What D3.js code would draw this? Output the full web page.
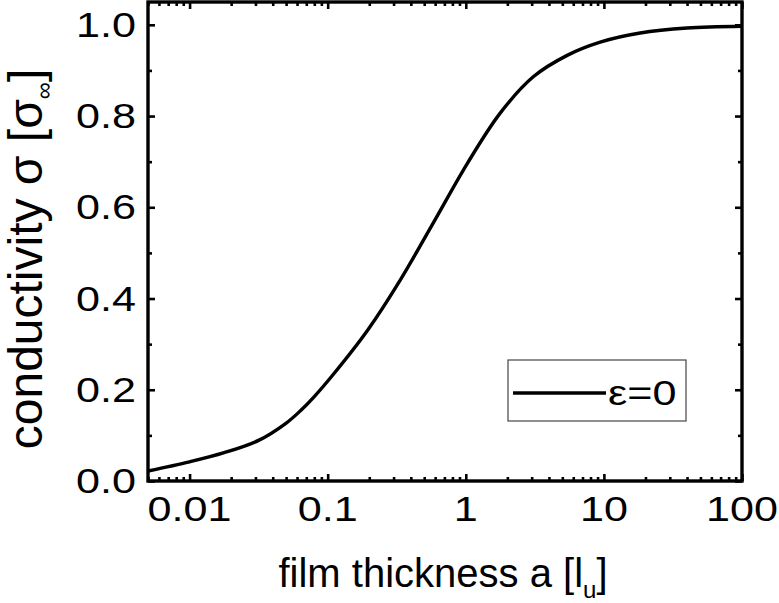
<!DOCTYPE html>
<html>
<head>
<meta charset="utf-8">
<script src="https://cdn.jsdelivr.net/npm/d3@7"></script>
<style>
  html, body { margin: 0; padding: 0; background: #fff; }
  svg { display: block; }
  text { font-family: "Liberation Sans", Arial, Helvetica, sans-serif; fill: #000; }
</style>
</head>
<body>
<svg id="chart" width="779" height="603"></svg>
<script>
// ---- data ----
const thickness = [0.005, 0.01, 0.0178, 0.0316, 0.0501, 0.0635, 0.0794, 0.11, 0.194, 0.336, 0.582, 1.03, 1.78, 3.08, 5.42, 9.4, 18.3, 40, 100];
const conductivity = [0.022, 0.042, 0.062, 0.089, 0.127, 0.154, 0.184, 0.234, 0.330, 0.441, 0.566, 0.697, 0.807, 0.886, 0.933, 0.962, 0.982, 0.993, 0.997];
const xTickValues = [0.01, 0.1, 1, 10, 100];
const xTickLabels = ["0.01", "0.1", "1", "10", "100"];
const yTickValues = [0.0, 0.2, 0.4, 0.6, 0.8, 1.0];
const yTickLabels = ["0.0", "0.2", "0.4", "0.6", "0.8", "1.0"];
const yMinorValues = [0.1, 0.3, 0.5, 0.7, 0.9];
const legendLabel = "ε=0";

// ---- layout ----
const L = 148, R = 742, T = 2, B = 481;
const svg = d3.select("#chart");

const x = d3.scaleLog().domain([0.005, 100]).range([L, R]);
const y = d3.scaleLinear().domain([0, 1.05]).range([B, T]);

// minor x ticks
const xMinor = [];
[0.001, 0.01, 0.1, 1, 10].forEach(d => {
  for (let k = 2; k <= 9; k++) {
    const v = d * k;
    if (v >= 0.005 && v <= 100 && !xTickValues.some(t => Math.abs(t - v) < 1e-9)) xMinor.push(v);
  }
});

const axStroke = 3.4;
function styleAxis(g) {
  g.select(".domain").remove();
  g.selectAll(".tick line").attr("stroke", "#000").attr("stroke-width", 2.6);
  g.selectAll(".tick text").remove();
}

// bottom
svg.append("g").attr("transform", `translate(0,${B})`)
  .call(d3.axisBottom(x).tickValues(xTickValues).tickSize(-7).tickFormat(""))
  .call(styleAxis);
svg.append("g").attr("transform", `translate(0,${B})`)
  .call(d3.axisBottom(x).tickValues(xMinor).tickSize(-4).tickFormat(""))
  .call(styleAxis);
// top
svg.append("g").attr("transform", `translate(0,${T})`)
  .call(d3.axisTop(x).tickValues(xTickValues).tickSize(-7).tickFormat(""))
  .call(styleAxis);
svg.append("g").attr("transform", `translate(0,${T})`)
  .call(d3.axisTop(x).tickValues(xMinor).tickSize(-4).tickFormat(""))
  .call(styleAxis);
// left
svg.append("g").attr("transform", `translate(${L},0)`)
  .call(d3.axisLeft(y).tickValues(yTickValues).tickSize(-7).tickFormat(""))
  .call(styleAxis);
svg.append("g").attr("transform", `translate(${L},0)`)
  .call(d3.axisLeft(y).tickValues(yMinorValues).tickSize(-4).tickFormat(""))
  .call(styleAxis);
// right
svg.append("g").attr("transform", `translate(${R},0)`)
  .call(d3.axisRight(y).tickValues(yTickValues).tickSize(-7).tickFormat(""))
  .call(styleAxis);
svg.append("g").attr("transform", `translate(${R},0)`)
  .call(d3.axisRight(y).tickValues(yMinorValues).tickSize(-4).tickFormat(""))
  .call(styleAxis);

// frame
svg.append("rect")
  .attr("x", L).attr("y", T).attr("width", R - L).attr("height", B - T)
  .attr("fill", "none").attr("stroke", "#000").attr("stroke-width", axStroke);

// tick labels
const tickFont = 34.5, stretch = 1.25;
svg.append("g").selectAll("text").data(xTickValues).join("text")
  .attr("transform", (d) => `translate(${x(d)},${B + 40}) scale(${stretch},1)`)
  .attr("text-anchor", "middle")
  .attr("font-size", tickFont)
  .text((d, i) => xTickLabels[i]);

svg.append("g").selectAll("text").data(yTickValues).join("text")
  .attr("transform", (d) => `translate(${L - 12},${y(d) + 12}) scale(${stretch},1)`)
  .attr("text-anchor", "end")
  .attr("font-size", tickFont)
  .text((d, i) => yTickLabels[i]);

// curve
const line = d3.line()
  .x((d, i) => x(thickness[i]))
  .y((d) => y(d))
  .curve(d3.curveCatmullRom.alpha(0.5));
svg.append("path")
  .datum(conductivity)
  .attr("fill", "none")
  .attr("stroke", "#000")
  .attr("stroke-width", 3.4)
  .attr("stroke-linejoin", "round")
  .attr("d", line);

// x title
const xt = svg.append("text")
  .attr("x", (L + R) / 2 - 2).attr("y", 587)
  .attr("text-anchor", "middle")
  .attr("font-size", 40);
xt.append("tspan").text("film thickness a [l");
xt.append("tspan").attr("font-size", 24).attr("dy", 11).text("u");
xt.append("tspan").attr("dy", -11).text("]");

// y title
const yt = svg.append("text")
  .attr("transform", `translate(42,259) rotate(-90)`)
  .attr("text-anchor", "middle")
  .attr("font-size", 48);
yt.append("tspan").text("conductivity σ [σ");
yt.append("tspan").attr("font-size", 24).attr("dy", 10).text("∞");
yt.append("tspan").attr("dy", -10).text("]");

// legend
const lg = svg.append("g");
lg.append("rect")
  .attr("x", 508).attr("y", 360).attr("width", 178).attr("height", 61)
  .attr("fill", "#fff").attr("stroke", "#444").attr("stroke-width", 1.2);
lg.append("line")
  .attr("x1", 513).attr("x2", 606).attr("y1", 393).attr("y2", 393)
  .attr("stroke", "#000").attr("stroke-width", 3.4);
lg.append("text")
  .attr("transform", `translate(608,405) scale(${stretch},1)`)
  .attr("font-size", tickFont)
  .text(legendLabel);
</script>
</body>
</html>
